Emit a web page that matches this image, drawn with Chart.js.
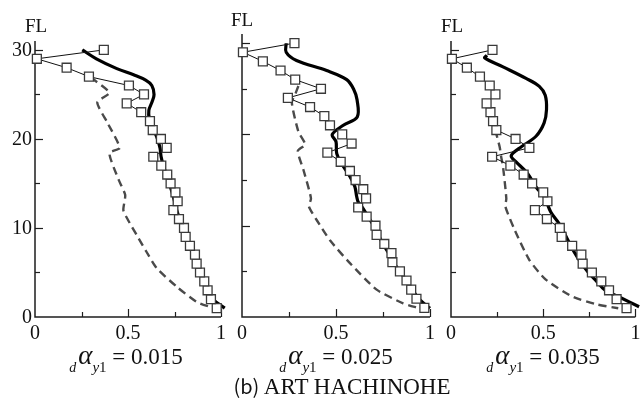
<!DOCTYPE html>
<html>
<head>
<meta charset="utf-8">
<script src="https://cdn.jsdelivr.net/npm/chart.js@4.4.1/dist/chart.umd.min.js"></script>
<style>
  body { margin: 0; background: #fff; }
  #wrap { position: relative; width: 643px; height: 405px; overflow: hidden;
          font-family: "Liberation Serif", "Times New Roman", serif; color: #111; }
  #wrap canvas { position: absolute; left: 0; top: 0; }
  .fl { position: absolute; font-size: 19px; line-height: 19px; }
  .lab { position: absolute; font-size: 23px; line-height: 23px; white-space: nowrap; transform: translateX(-50%); }
  .lab i { line-height: 0; }
  .lab .sub { font-size: 15px; position: relative; top: 8px; }
  .lab .d { font-size: 14px; margin-right: 2px; }
  .lab .al { font-size: 27px; }
  .title { position: absolute; left: 342px; top: 374px; font-size: 23px; line-height: 23px; white-space: nowrap; transform: translateX(-50%); }
  .title .b { font-family: "Noto Sans CJK JP", sans-serif; font-size: 20px; }
</style>
</head>
<body>
<div id="wrap">
  <canvas id="c1" width="643" height="405"></canvas>
  <canvas id="c2" width="643" height="405"></canvas>
  <canvas id="c3" width="643" height="405"></canvas>
  <div class="fl" style="left:25px;top:16px">FL</div>
  <div class="fl" style="left:231px;top:10px">FL</div>
  <div class="fl" style="left:441px;top:16px">FL</div>
  <div class="lab" style="left:126px;top:345px"><i class="sub d">d</i><i class="al">α</i><span class="sub"><i>y</i>1</span> = 0.015</div>
  <div class="lab" style="left:336px;top:345px"><i class="sub d">d</i><i class="al">α</i><span class="sub"><i>y</i>1</span> = 0.025</div>
  <div class="lab" style="left:543px;top:345px"><i class="sub d">d</i><i class="al">α</i><span class="sub"><i>y</i>1</span> = 0.035</div>
  <div class="title"><span class="b">(b)</span> ART HACHINOHE</div>
</div>
<script>
/* FL 분포 3패널 — 사각 마커(계단식), 굵은 실선, 회색 점선 */
const FLOORS = [1,2,3,4,5,6,7,8,9,10,11,12,13,14,15,16,17,18,19,20,21,22,23,24,25,26,27,28,29,30];
const SQ_015 = [0.977,0.946,0.928,0.91,0.887,0.869,0.86,0.833,0.81,0.801,0.774,0.744,0.767,0.755,0.729,0.711,0.679,0.636,0.708,0.677,0.633,0.618,0.571,0.493,0.586,0.505,0.29,0.17,0.01,0.37];
const SQ_025 = [0.97,0.928,0.90,0.875,0.84,0.80,0.795,0.757,0.716,0.71,0.663,0.618,0.66,0.645,0.604,0.574,0.525,0.454,0.583,0.533,0.468,0.438,0.362,0.244,0.42,0.283,0.205,0.111,0.005,0.279];
const SQ_035 = [0.952,0.898,0.857,0.815,0.764,0.714,0.707,0.657,0.60,0.59,0.52,0.455,0.523,0.50,0.44,0.394,0.322,0.223,0.425,0.35,0.246,0.228,0.214,0.193,0.241,0.21,0.157,0.086,0.005,0.225];

// 굵은 실선 [x, FL]
const THICK_015 = [[1.02,1.0],[0.955,2],[0.928,3],[0.905,4],[0.885,5],[0.866,6],[0.85,7],[0.83,8],[0.812,9],[0.795,10],[0.778,11],[0.762,12],[0.75,13],[0.737,14],[0.722,15],[0.706,16],[0.69,17],[0.678,18],[0.672,19],[0.655,20.2],[0.632,21.2],[0.615,22.2],[0.612,23.2],[0.63,24.2],[0.64,25],[0.628,26],[0.595,26.6],[0.53,27.2],[0.44,27.9],[0.33,29],[0.254,30]];
const THICK_025 = [[1.0,0.95],[0.945,1.9],[0.905,3],[0.875,4],[0.84,5],[0.805,6],[0.78,7],[0.75,8],[0.725,9],[0.70,10],[0.67,11],[0.64,12],[0.618,12.6],[0.61,13.2],[0.6,14.3],[0.574,15.4],[0.53,16.8],[0.504,17.9],[0.5,19.2],[0.48,20],[0.539,21],[0.613,21.9],[0.612,23.8],[0.595,24.9],[0.557,26],[0.45,27],[0.29,28.1],[0.235,29],[0.235,30]];
const THICK_035 = [[1.02,1.15],[0.907,2.3],[0.836,3.0],[0.79,4],[0.745,5],[0.705,6.1],[0.668,7.3],[0.63,8.8],[0.586,10.5],[0.541,11.8],[0.505,13.5],[0.461,14.6],[0.416,16.1],[0.354,17.4],[0.327,18],[0.336,18.4],[0.38,19.1],[0.461,20.3],[0.505,21.8],[0.518,23.3],[0.511,24.9],[0.479,25.9],[0.407,26.8],[0.282,28.1],[0.183,29.1],[0.195,29.4]];

// 회색 점선 [x, FL]
const DASH_015 = [[0.30,26.9],[0.40,25.2],[0.335,24.1],[0.39,21.8],[0.455,19],[0.40,18.4],[0.45,15.4],[0.485,13.7],[0.475,12],[0.50,10.9],[0.547,9.2],[0.6,7.3],[0.654,5.5],[0.762,3.4],[0.869,1.7],[0.96,1.0]];
const DASH_025 = [[0.30,25.3],[0.285,24.5],[0.265,23.5],[0.30,20.3],[0.336,18.9],[0.297,18.2],[0.327,16.1],[0.367,13],[0.356,12.1],[0.398,10.6],[0.468,8.4],[0.574,5.9],[0.716,3.0],[0.857,1.5],[0.945,0.95]];
const DASH_035 = [[0.24,21],[0.264,19.1],[0.272,18],[0.282,16.9],[0.30,13.3],[0.295,12.4],[0.345,9.8],[0.425,6.4],[0.514,4.2],[0.657,2.3],[0.782,1.46],[0.907,0.98]];

const Y_TICKS = [5,10,15,20,25,30];
const Y_LABELS = [0,10,20,30];
const X_TICKS = [0.25,0.5,0.75,1];
const X_LABELS = [0,0.5,1];

const SERIF = '"Liberation Serif", "Times New Roman", serif';
const pts = (arr) => arr.map(([x, y]) => ({ x, y }));

const frame = {
  id: "frame",
  beforeDatasetsDraw(chart, args, o) {
    const { ctx, chartArea: a, scales: { x, y } } = chart;
    ctx.save();
    ctx.strokeStyle = "#1e1e1e";
    ctx.lineWidth = 1.5;
    ctx.beginPath();
    ctx.moveTo(a.left, a.top);
    ctx.lineTo(a.left, a.bottom);
    ctx.lineTo(a.right, a.bottom);
    ctx.stroke();
    ctx.lineWidth = 1.2;
    Y_TICKS.forEach((v) => {
      const py = Math.round(y.getPixelForValue(v)) + 0.5, len = v % 10 ? 5 : 8;
      ctx.beginPath(); ctx.moveTo(a.left, py); ctx.lineTo(a.left + len, py); ctx.stroke();
    });
    X_TICKS.forEach((v) => {
      const px = Math.round(x.getPixelForValue(v)) + 0.5, len = v === 0.25 || v === 0.75 ? 5 : 8;
      ctx.beginPath(); ctx.moveTo(px, a.bottom); ctx.lineTo(px, a.bottom - len); ctx.stroke();
    });
    ctx.restore();
  },
  afterDraw(chart, args, o) {
    const { ctx, chartArea: a, scales: { x, y } } = chart;
    ctx.save();
    ctx.fillStyle = "#111";
    ctx.font = `20px ${SERIF}`;
    ctx.textBaseline = "alphabetic";
    ctx.textAlign = "center";
    X_LABELS.forEach((v) => ctx.fillText(String(v), x.getPixelForValue(v), 339));
    if (o.yLabels) {
      ctx.textAlign = "right";
      ctx.textBaseline = "middle";
      Y_LABELS.forEach((v) => ctx.fillText(String(v), a.left - 3, y.getPixelForValue(v) + 1));
    }
    ctx.restore();
  },
};

function panel(id, sq, thick, dash, box, opts) {
  return new Chart(document.getElementById(id), {
    type: "scatter",
    data: {
      datasets: [
        {
          data: sq.map((v, i) => ({ x: v, y: FLOORS[i] })),
          showLine: true, borderColor: "#111", borderWidth: 1, tension: 0,
          pointStyle: "rect", pointRadius: 6.3, pointBorderWidth: 1.3,
          pointBorderColor: "#3a3a3a", pointBackgroundColor: "#fff", clip: false,
        },
        {
          data: pts(thick), showLine: true, borderColor: "#000", borderWidth: 3.2,
          tension: 0.35, pointRadius: 0, clip: false,
        },
        {
          data: pts(dash), showLine: true, borderColor: "#4a4a4a", borderWidth: 2.4,
          borderDash: [8, 5], tension: 0.2, pointRadius: 0, clip: false,
        },
      ],
    },
    options: {
      responsive: false, animation: false, devicePixelRatio: 1,
      layout: { padding: { left: box[0], top: box[1], right: 643 - box[2], bottom: 405 - box[3] } },
      scales: {
        x: { type: "linear", min: 0, max: 1, display: false },
        y: { type: "linear", min: 0, max: 31, display: false },
      },
      plugins: { legend: { display: false }, tooltip: { enabled: false }, frame: opts },
      events: [],
    },
    plugins: [frame],
  });
}

panel("c1", SQ_015, THICK_015, DASH_015, [35, 41, 221, 317], { yLabels: true });
panel("c2", SQ_025, THICK_025, DASH_025, [242, 34, 430, 317], { yLabels: false });
panel("c3", SQ_035, THICK_035, DASH_035, [451, 41, 637, 317], { yLabels: false });
</script>
</body>
</html>
